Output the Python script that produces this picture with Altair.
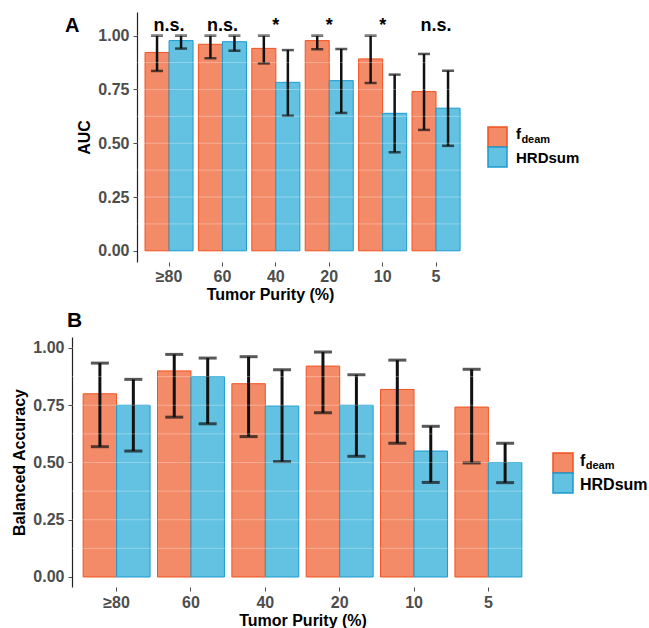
import altair as alt
import pandas as pd

purity = ["≥80", "60", "40", "20", "10", "5"]
series = ["fdeam", "HRDsum"]
fill_colors = ["#F48B68", "#63C2E2"]
stroke_colors = ["#F2521F", "#1A9BD0"]

# Panel A: AUC
auc_fdeam = [0.922, 0.960, 0.941, 0.977, 0.892, 0.740]
auc_fdeam_lo = [0.836, 0.895, 0.871, 0.937, 0.780, 0.562]
auc_fdeam_hi = [1.000, 1.000, 1.000, 1.000, 1.000, 0.915]
auc_hrd = [0.977, 0.972, 0.783, 0.791, 0.639, 0.663]
auc_hrd_lo = [0.940, 0.930, 0.628, 0.641, 0.458, 0.488]
auc_hrd_hi = [1.000, 1.000, 0.933, 0.938, 0.819, 0.837]
auc_signif = ["n.s.", "n.s.", "*", "*", "*", "n.s."]

# Panel B: Balanced accuracy
bacc_fdeam = [0.800, 0.900, 0.844, 0.921, 0.819, 0.742]
bacc_fdeam_lo = [0.569, 0.698, 0.613, 0.717, 0.584, 0.498]
bacc_fdeam_hi = [0.934, 0.972, 0.962, 0.982, 0.947, 0.907]
bacc_hrd = [0.750, 0.875, 0.747, 0.750, 0.550, 0.500]
bacc_hrd_lo = [0.550, 0.669, 0.504, 0.527, 0.413, 0.412]
bacc_hrd_hi = [0.863, 0.956, 0.905, 0.883, 0.658, 0.584]

y_ticks = [0.0, 0.25, 0.5, 0.75, 1.0]
grid_values = [0.125, 0.25, 0.375, 0.5, 0.625, 0.75, 0.875, 1.0]

FONT = "Liberation Sans"
GREY = "#4D4D4D"


def long_table(f, flo, fhi, h, hlo, hhi):
    rows = []
    for i, p in enumerate(purity):
        rows.append({"purity": p, "series": series[0], "value": f[i], "lo": flo[i], "hi": fhi[i]})
        rows.append({"purity": p, "series": series[1], "value": h[i], "lo": hlo[i], "hi": hhi[i]})
    return pd.DataFrame(rows)


one = pd.DataFrame({"k": [0]})


def panel(df, W, H, ydom, ytitle, letter, letter_pos, letter_size, frame, xlabpad,
          cap, errw, leg, leg_size, xpad_outer, xalign, yoffset, sig=None):
    xscale = alt.Scale(domain=purity, paddingInner=0.1, paddingOuter=xpad_outer, align=xalign)
    yscale = alt.Scale(domain=ydom, nice=False, zero=False)
    xaxis = alt.Axis(title="Tumor Purity (%)", labelAngle=0, domain=False, grid=False,
                     ticks=True, tickSize=4, tickColor=GREY, tickWidth=1,
                     labelColor=GREY, labelFont=FONT, labelFontSize=16, labelFontWeight="bold",
                     labelPadding=xlabpad, titleFont=FONT, titleFontSize=16,
                     titleFontWeight="bold", titleColor="black", titlePadding=2)
    yaxis = alt.Axis(title=ytitle, values=y_ticks, format=".2f", grid=False, domain=True,
                     domainColor="#222222", domainWidth=1.2, tickSize=4, tickColor=GREY,
                     labelColor=GREY, labelFont=FONT, labelFontSize=16, labelFontWeight="bold",
                     labelPadding=4, titleFont=FONT, titleFontSize=16, titleFontWeight="bold",
                     titleColor="black", titlePadding=5, offset=yoffset)
    xoff = alt.XOffset("series:N", scale=alt.Scale(domain=series, paddingInner=0, paddingOuter=0))
    xn = alt.X("purity:N", scale=xscale)
    base = alt.Chart(df)
    bars = base.mark_bar(strokeWidth=1).encode(
        x=alt.X("purity:N", scale=xscale, axis=xaxis),
        xOffset=xoff,
        y=alt.Y("value:Q", scale=yscale, axis=yaxis),
        y2=alt.datum(0),
        color=alt.Color("series:N", scale=alt.Scale(domain=series, range=fill_colors), legend=None),
        stroke=alt.Stroke("series:N", scale=alt.Scale(domain=series, range=stroke_colors), legend=None),
    )
    err = base.mark_rule(color="#111111", strokeWidth=errw).encode(
        x=xn, xOffset=xoff, y=alt.Y("lo:Q", scale=yscale), y2="hi:Q")
    cap_lo = base.mark_tick(color="#111111", thickness=errw, size=cap).encode(
        x=xn, xOffset=xoff, y=alt.Y("lo:Q", scale=yscale))
    cap_hi = base.mark_tick(color="#111111", thickness=errw, size=cap).encode(
        x=xn, xOffset=xoff, y=alt.Y("hi:Q", scale=yscale))
    grid = alt.Chart(pd.DataFrame({"g": grid_values})).mark_rule(
        color="white", strokeWidth=1, opacity=0.3).encode(
        x=alt.value(-yoffset), x2=alt.value(W), y=alt.Y("g:Q", scale=yscale))
    layers = [bars, err, cap_lo, cap_hi, grid]
    if sig is not None:
        sig_df = pd.DataFrame({"purity": purity, "label": sig})
        layers.append(alt.Chart(sig_df).mark_text(
            font=FONT, fontSize=18, fontWeight="bold", color="black",
            baseline="alphabetic", align="center").encode(
            x=xn, y=alt.datum(1.02), text="label:N"))
    layers.append(alt.Chart(one).mark_text(
        text=letter, font=FONT, fontSize=letter_size, fontWeight="bold", color="black",
        align="left", baseline="alphabetic").encode(
        x=alt.value(letter_pos[0]), y=alt.value(letter_pos[1])))
    # manual legend (the subscript in f_deam needs two text pieces)
    lx0, lx1, ly0, ly1, ly2, tx, fb, db, hb = leg
    for (ya, yb, fc, sc) in [(ly0, ly1, fill_colors[0], stroke_colors[0]),
                             (ly1, ly2, fill_colors[1], stroke_colors[1])]:
        layers.append(alt.Chart(one).mark_rect(fill=fc, stroke=sc, strokeWidth=1.5).encode(
            x=alt.value(lx0), x2=alt.value(lx1), y=alt.value(ya), y2=alt.value(yb)))
    layers.append(alt.Chart(one).mark_text(
        text="f", font=FONT, fontSize=leg_size, fontWeight="bold", color="black",
        align="left", baseline="alphabetic").encode(x=alt.value(tx), y=alt.value(fb)))
    layers.append(alt.Chart(one).mark_text(
        text="deam", font=FONT, fontSize=11, fontWeight="bold", color="black",
        align="left", baseline="alphabetic").encode(x=alt.value(tx + leg_size * 0.36), y=alt.value(db)))
    layers.append(alt.Chart(one).mark_text(
        text="HRDsum", font=FONT, fontSize=leg_size, fontWeight="bold", color="black",
        align="left", baseline="alphabetic").encode(x=alt.value(tx), y=alt.value(hb)))
    # invisible frame fixing the panel's outer bounds
    fl, ft, fbm = frame
    layers.append(alt.Chart(one).mark_rule(opacity=0, strokeWidth=0.5).encode(
        x=alt.value(fl), y=alt.value(ft), y2=alt.value(fbm)))
    return alt.layer(*layers).properties(width=W, height=H)


dfA = long_table(auc_fdeam, auc_fdeam_lo, auc_fdeam_hi, auc_hrd, auc_hrd_lo, auc_hrd_hi)
dfB = long_table(bacc_fdeam, bacc_fdeam_lo, bacc_fdeam_hi, bacc_hrd, bacc_hrd_lo, bacc_hrd_hi)

# Both panels share a left origin at page x=72; panel A's axis is shifted right by 65 px.
panelA = panel(dfA, 396, 250, [-0.052, 1.11], "AUC", "A", (-7, 20), 20,
               (-72, -12, 293), 2, 12, 2.5,
               (416, 435, 115, 135, 155, 444, 127, 131, 151), 15,
               0.758, 0.902, -65, sig=auc_signif)
panelB = panel(dfB, 461, 250, [-0.0437, 1.048], "Balanced Accuracy", "B", (-5, -10), 21,
               (-72, -32, 285), 3, 18, 3,
               (481, 501, 116, 136, 156, 508, 129, 132, 153), 16,
               0.15, 0.5, 0)

chart = alt.vconcat(panelA, panelB, spacing=0, padding=0, background="white").resolve_scale(
    x="independent", xOffset="independent", y="independent"
).configure_view(stroke=None)
chart.save("out.html", embed_options={"renderer": "svg", "actions": False})
